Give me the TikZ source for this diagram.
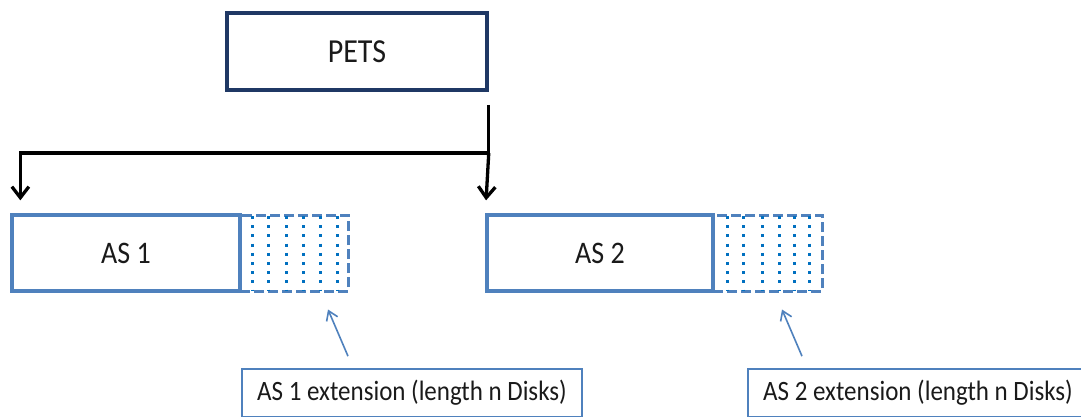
\documentclass[tikz,border=0pt]{standalone}
\usepackage{fontspec}
\setmainfont{Carlito}
\usetikzlibrary{arrows.meta}
\definecolor{navy}{HTML}{1F3864}
\definecolor{asblue}{HTML}{4F81BD}
\definecolor{dotblue}{HTML}{0070C0}
\definecolor{txt}{HTML}{1A1A1A}
\newcommand{\vstretch}[1]{\scalebox{1}[1.12]{#1}}
\tikzset{
  petsbox/.style={draw=navy,line width=3.5pt,rectangle,minimum width=260pt,minimum height=77pt,inner sep=0pt,text=txt,font=\fontsize{30}{34}\selectfont},
  asbox/.style={draw=asblue,line width=3.3pt,rectangle,minimum height=76pt,inner sep=0pt,text=txt,font=\fontsize{28}{32}\selectfont},
  extbox/.style={draw=asblue,line width=3pt,dash pattern=on 10pt off 4pt,rectangle,minimum height=76pt,inner sep=0pt},
  dotline/.style={draw=dotblue,line width=3pt,dash pattern=on 3pt off 6.2pt},
  labbox/.style={draw=asblue,line width=1.6pt,rectangle,minimum width=340pt,minimum height=48pt,inner sep=0pt,text=txt,font=\fontsize{25}{29}\selectfont},
  blkarrow/.style={draw=black,line width=3.3pt,-{Straight Barb[length=11pt,width=17pt,line width=3.3pt]}},
  blkline/.style={draw=black,line width=3.3pt},
  thinarrow/.style={draw=asblue,line width=1.6pt,-{Straight Barb[length=9pt,width=12pt,line width=1.6pt]}}
}
\begin{document}
\begin{tikzpicture}[x=1pt,y=-1pt]
\useasboundingbox (0,0) rectangle (1081,416);
\node[petsbox] (pets) at (357,51.5) {\vstretch{PETS}};
\node[asbox,minimum width=228pt] (as1) at (126,253) {\vstretch{AS 1}};
\node[extbox,minimum width=108pt] (ext1) at (294,253) {};
\node[asbox,minimum width=226pt] (as2) at (600,253) {\vstretch{AS 2}};
\node[extbox,minimum width=109pt] (ext2) at (767.5,253) {};
\foreach \x in {252,268,286,303,320,337}{
  \draw[dotline] (\x,216) -- (\x,290);
}
\foreach \x in {727,743,762,779,794,809}{
  \draw[dotline] (\x,216) -- (\x,290);
}
\node[labbox] (lab1) at (412,393) {\vstretch{AS 1 extension (length n Disks)}};
\node[labbox] (lab2) at (918,393) {\vstretch{AS 2 extension (length n Disks)}};
\coordinate (j) at (pets.east |- 0,153);
\draw[blkline] ([yshift=-13pt]pets.south east) -- (j);
\draw[blkarrow,shorten >=13pt] (j) -- (as2.north west);
\draw[blkarrow,shorten >=13pt] (j) -| ([xshift=10pt]as1.north west);
\draw[thinarrow] ([xshift=-64pt,yshift=12pt]lab1.north) -- ([xshift=34pt,yshift=-17pt]ext1.south);
\draw[thinarrow] ([xshift=-116pt,yshift=12pt]lab2.north) -- ([xshift=14.5pt,yshift=-17pt]ext2.south);
\end{tikzpicture}
\end{document}
